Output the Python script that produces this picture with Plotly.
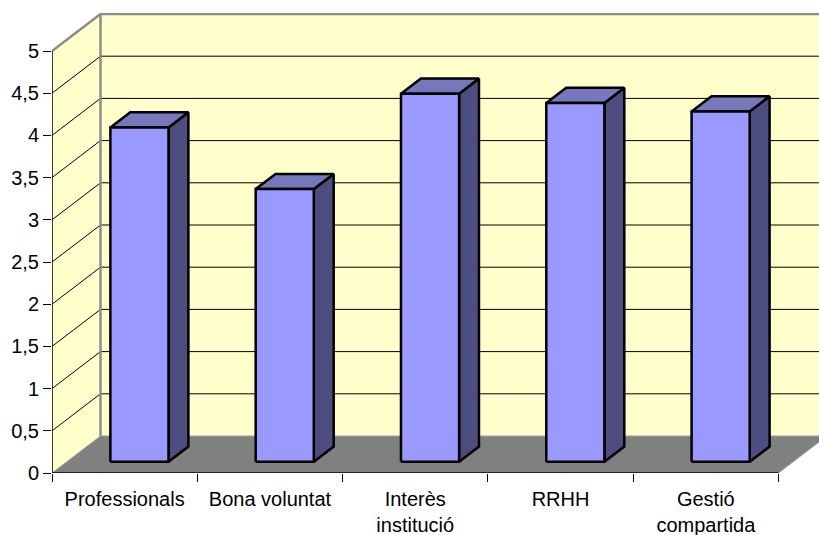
import plotly.graph_objects as go

# ---- data ----
categories = ["Professionals", "Bona voluntat", "Interès<br>institució", "RRHH", "Gestió<br>compartida"]
values = [3.96, 3.23, 4.36, 4.25, 4.15]
y_tick_vals = [0, 0.5, 1, 1.5, 2, 2.5, 3, 3.5, 4, 4.5, 5]
y_tick_text = ["0", "0,5", "1", "1,5", "2", "2,5", "3", "3,5", "4", "4,5", "5"]

# ---- geometry (in axis units) ----
N = len(categories)
YMAX = 5
CAT_PX = 145.3
UNIT_PX = 84.4
W, H = 819, 535
ML, MR, MT, MB = 52, 0, 13, 62
xr = (W - ML - MR) / CAT_PX
yr = (H - MT - MB) / UNIT_PX
DX = 48.5 / CAT_PX       # depth offset in x
DY = 37.0 / UNIT_PX      # depth offset in y
F0 = 0.305               # depth fraction of bar front
FD = 0.41                # bar depth fraction
BAR_OFF, BAR_W = 0.30, 0.40

WALL = "#FFFFCC"
FLOOR = "#808080"
FRONT = "#9999FF"
TOP = "#7777BB"
SIDE = "#4D4D80"

fig = go.Figure()


def poly(xs, ys, fill, lc, lw):
    fig.add_trace(go.Scatter(
        x=list(xs) + [xs[0]], y=list(ys) + [ys[0]], mode="lines",
        fill="toself", fillcolor=fill, line=dict(color=lc, width=lw),
        hoverinfo="skip", showlegend=False))


def line(xs, ys, color, width):
    fig.add_trace(go.Scatter(x=xs, y=ys, mode="lines",
                             line=dict(color=color, width=width),
                             hoverinfo="skip", showlegend=False))


# walls
poly([0, 0, DX, DX], [0, YMAX, YMAX + DY, DY], WALL, "rgba(0,0,0,0)", 0)
poly([DX, DX, N + DX, N + DX], [DY, YMAX + DY, YMAX + DY, DY], WALL, "rgba(0,0,0,0)", 0)

# gridlines
for v in y_tick_vals[1:-1]:
    line([0, DX, N + DX], [v, v + DY, v + DY], "#000000", 1)

# wall borders
line([0, DX, N + DX], [YMAX, YMAX + DY, YMAX + DY], "#8C8C8C", 2.5)
line([DX, DX], [DY, YMAX + DY], "#8C8C8C", 2.5)

# floor
poly([0, N, N + DX, DX], [0, 0, DY, DY], FLOOR, "#A0A0A0", 1)

# bars
for i, v in enumerate(values):
    x0 = i + BAR_OFF + F0 * DX
    x1 = x0 + BAR_W
    b = F0 * DY
    t = b + v
    ddx, ddy = FD * DX, FD * DY
    poly([x1, x1 + ddx, x1 + ddx, x1], [b, b + ddy, t + ddy, t], SIDE, "#000000", 2.5)
    poly([x0, x1, x1 + ddx, x0 + ddx], [t, t, t + ddy, t + ddy], TOP, "#000000", 2.5)
    poly([x0, x1, x1, x0], [b, b, t, t], FRONT, "#000000", 2.5)

# axis lines
line([0, 0], [0, YMAX], "#000000", 1.5)
line([0, N], [0, 0], "#000000", 1.5)

# invisible trace for the label axis
fig.add_trace(go.Scatter(x=[0.5], y=[0], xaxis="x2", mode="markers",
                         marker=dict(opacity=0), hoverinfo="skip", showlegend=False))

font = dict(family="Liberation Sans, Arial, sans-serif", size=20, color="#000000")

fig.update_layout(
    width=W, height=H,
    margin=dict(l=ML, r=MR, t=MT, b=MB, pad=0, autoexpand=False),
    paper_bgcolor="#FFFFFF", plot_bgcolor="#FFFFFF",
    showlegend=False,
    xaxis=dict(range=[0, xr], tickvals=list(range(N + 1)), ticktext=[""] * (N + 1),
               ticks="outside", ticklen=8, tickwidth=1, tickcolor="#000000",
               showgrid=False, zeroline=False, showline=False, fixedrange=True,
               automargin=False),
    xaxis2=dict(range=[0, xr], overlaying="x", anchor="y", side="bottom",
                tickvals=[i + 0.5 for i in range(N)], ticktext=categories,
                ticks="outside", ticklen=8, tickcolor="rgba(0,0,0,0)",
                tickfont=font, showgrid=False, zeroline=False, showline=False,
                automargin=False),
    yaxis=dict(range=[0, yr], tickvals=y_tick_vals, ticktext=y_tick_text,
               ticks="outside", ticklen=8, tickwidth=1, tickcolor="#000000",
               tickfont=font, showgrid=False, zeroline=False, showline=False,
               automargin=False),
)

fig.write_html("out.html")
